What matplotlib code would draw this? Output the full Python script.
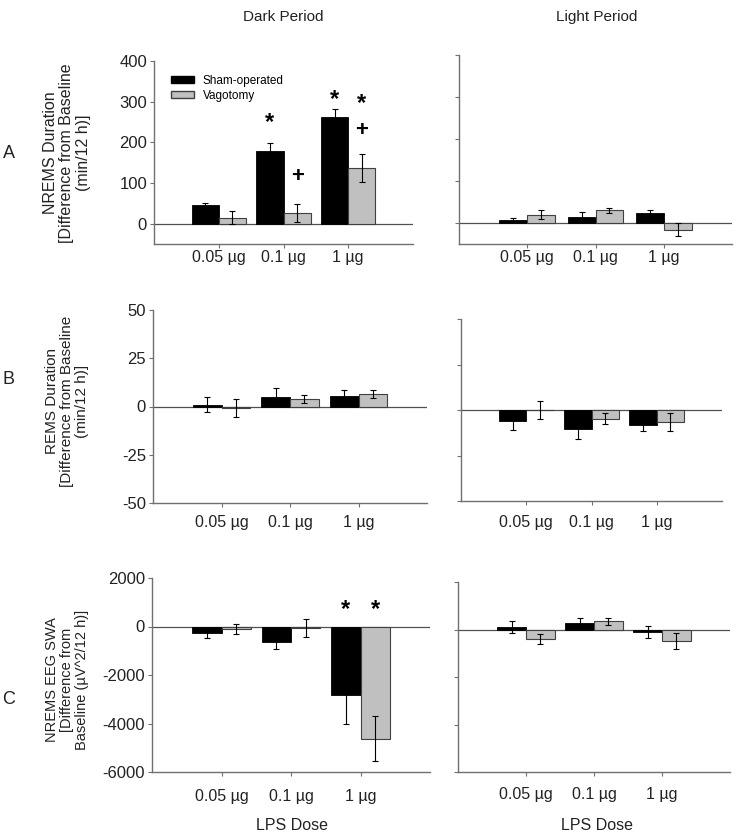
import numpy as np
import matplotlib
matplotlib.use("Agg")
import matplotlib.pyplot as plt
from matplotlib.patches import Patch

plt.rcParams["font.family"] = ["Liberation Sans", "DejaVu Sans"]
plt.rcParams["axes.unicode_minus"] = False

doses = ["0.05 µg", "0.1 µg", "1 µg"]

# NREMS duration (min/12 h)
nrems_dark_sham = [45, 178, 262]
nrems_dark_sham_err = [5, 20, 19]
nrems_dark_vago = [15, 26, 137]
nrems_dark_vago_err = [15, 23, 34]
nrems_light_sham = [8, 15, 25]
nrems_light_sham_err = [5, 12, 7]
nrems_light_vago = [20, 30, -16]
nrems_light_vago_err = [10, 6, 16]

# REMS duration (min/12 h)
rems_dark_sham = [1, 5, 5.5]
rems_dark_sham_err = [3.7, 4.5, 3]
rems_dark_vago = [-0.8, 4, 6.4]
rems_dark_vago_err = [4.7, 2.2, 2.2]
rems_light_sham = [-6.2, -10.6, -8.4]
rems_light_sham_err = [4.6, 5.3, 3.1]
rems_light_vago = [-0.2, -4.9, -6.4]
rems_light_vago_err = [5, 3, 4.9]

# NREMS EEG SWA (µV^2/12 h)
swa_dark_sham = [-275, -632, -2818]
swa_dark_sham_err = [180, 290, 1200]
swa_dark_vago = [-100, -70, -4619]
swa_dark_vago_err = [210, 370, 930]
swa_light_sham = [98, 267, -112]
swa_light_sham_err = [240, 210, 265]
swa_light_vago = [-393, 337, -477]
swa_light_vago_err = [220, 140, 335]

W, H = 736, 832
fig = plt.figure(figsize=(W / 100, H / 100), dpi=100)

GRAY = "#c0c0c0"
SPINE = "#707070"
TXT = "#222222"


def add_ax(l, t, r, b):
    return fig.add_axes([l / W, 1 - b / H, (r - l) / W, (b - t) / H])


def draw_panel(ax, sham, sham_err, vago, vago_err, ylim, yticks, show_labels, bw=0.42, xpad=1):
    x = np.arange(len(doses))
    ax.bar(x - bw / 2, sham, bw, color="black", edgecolor="black", linewidth=0.6, zorder=2)
    ax.bar(x + bw / 2, vago, bw, color=GRAY, edgecolor="#404040", linewidth=0.8, zorder=2)
    ax.errorbar(x - bw / 2, sham, yerr=sham_err, fmt="none", ecolor="black",
                elinewidth=0.8, capsize=2.5, capthick=0.8, zorder=3)
    ax.errorbar(x + bw / 2, vago, yerr=vago_err, fmt="none", ecolor="black",
                elinewidth=0.8, capsize=2.5, capthick=0.8, zorder=3)
    ax.axhline(0, color="#505050", linewidth=0.9, zorder=1)
    ax.set_xlim(-1, 3)
    ax.set_ylim(*ylim)
    ax.set_yticks(yticks)
    ax.set_xticks(x)
    ax.set_xticklabels(doses, fontsize=11.5, color=TXT)
    ax.tick_params(axis="x", length=3, width=0.8, color=SPINE, pad=xpad)
    ax.tick_params(axis="y", length=3, width=0.8, color=SPINE, labelsize=12,
                   labelcolor=TXT, pad=2)
    if not show_labels:
        ax.set_yticklabels([])
    for s in ["top", "right"]:
        ax.spines[s].set_visible(False)
    for s in ["left", "bottom"]:
        ax.spines[s].set_color(SPINE)
        ax.spines[s].set_linewidth(1)


# Row A
axA1 = add_ax(154, 61, 413, 244)
draw_panel(axA1, nrems_dark_sham, nrems_dark_sham_err, nrems_dark_vago, nrems_dark_vago_err,
           (-50, 400), [0, 100, 200, 300, 400], True, xpad=1.5)
axA2 = add_ax(459, 55, 732, 244)
draw_panel(axA2, nrems_light_sham, nrems_light_sham_err, nrems_light_vago, nrems_light_vago_err,
           (-50, 400), [0, 100, 200, 300, 400], False, bw=0.41, xpad=1.5)

handles = [Patch(facecolor="black", edgecolor="black"),
           Patch(facecolor=GRAY, edgecolor="#404040")]
axA1.legend(handles, ["Sham-operated", "Vagotomy"], loc="upper left",
            bbox_to_anchor=(0.065, 0.925), frameon=False, fontsize=8.5,
            handlelength=2.0, handleheight=0.45, labelspacing=0.25,
            handletextpad=0.7, borderaxespad=0, borderpad=0)

star_kw = dict(ha="center", va="center", fontsize=17, fontweight="bold", color="black")
axA1.text(1 - 0.21, 248, "*", **star_kw)
axA1.text(2 - 0.21, 305, "*", **star_kw)
axA1.text(2 + 0.21, 296, "*", **star_kw)
plus_kw = dict(ha="center", va="center", fontsize=16, fontweight="bold", color="black")
axA1.text(1 + 0.21, 116, "+", **plus_kw)
axA1.text(2 + 0.21, 230, "+", **plus_kw)

# Row B
axB1 = add_ax(153, 310, 427, 503)
draw_panel(axB1, rems_dark_sham, rems_dark_sham_err, rems_dark_vago, rems_dark_vago_err,
           (-50, 50), [-50, -25, 0, 25, 50], True, xpad=6)
axB2 = add_ax(461, 319, 722, 501)
draw_panel(axB2, rems_light_sham, rems_light_sham_err, rems_light_vago, rems_light_vago_err,
           (-50, 50), [-50, -25, 0, 25, 50], False, xpad=7)

# Row C
axC1 = add_ax(152, 578, 430, 772)
draw_panel(axC1, swa_dark_sham, swa_dark_sham_err, swa_dark_vago, swa_dark_vago_err,
           (-6000, 2000), [-6000, -4000, -2000, 0, 2000], True, xpad=9)
axC2 = add_ax(458, 582, 730, 772)
draw_panel(axC2, swa_light_sham, swa_light_sham_err, swa_light_vago, swa_light_vago_err,
           (-6000, 2000), [-6000, -4000, -2000, 0, 2000], False, xpad=8)
axC1.text(2 - 0.21, 700, "*", **star_kw)
axC1.text(2 + 0.21, 700, "*", **star_kw)

# Column titles and axis captions
fig.text(283 / W, 1 - 17 / H, "Dark Period", ha="center", va="center", fontsize=11, color=TXT)
fig.text(597 / W, 1 - 17 / H, "Light Period", ha="center", va="center", fontsize=11, color=TXT)
fig.text(292 / W, 1 - 825 / H, "LPS Dose", ha="center", va="center", fontsize=11.5, color=TXT)
fig.text(597 / W, 1 - 825 / H, "LPS Dose", ha="center", va="center", fontsize=11.5, color=TXT)

# Row letters
for letter, y in [("A", 153), ("B", 380), ("C", 700)]:
    fig.text(9 / W, 1 - y / H, letter, ha="center", va="center", fontsize=13, color=TXT)

# Y-axis labels
ylab_kw = dict(ha="center", va="center", rotation=90, color=TXT,
               multialignment="center", linespacing=1.1)
fig.text(67 / W, 1 - 153 / H, "NREMS Duration\n[Difference from Baseline\n(min/12 h)]",
         fontsize=11.5, **ylab_kw)
fig.text(67 / W, 1 - 401 / H, "REMS Duration\n[Difference from Baseline\n(min/12 h)]",
         fontsize=11, **ylab_kw)
fig.text(67 / W, 1 - 680 / H, "NREMS EEG SWA\n[Difference from\nBaseline (µV^2/12 h)]",
         fontsize=10.5, **ylab_kw)

fig.savefig("out.png", dpi=100)
